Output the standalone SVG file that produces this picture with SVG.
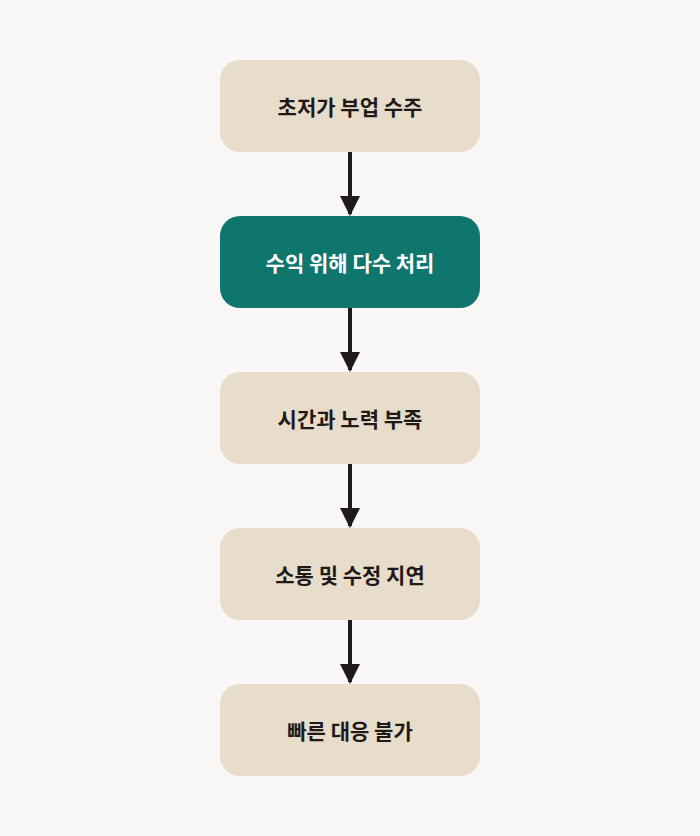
<svg xmlns="http://www.w3.org/2000/svg" width="700" height="836" viewBox="0 0 700 836">
<style>
.n{fill:#e8dccb}
.h{fill:#0f766e}
text{font-family:"Noto Sans CJK KR","Noto Sans",sans-serif;font-size:21px;font-weight:700;text-anchor:middle;dominant-baseline:central;fill:#1f1a17}
.w{fill:#ffffff}
.c{stroke:#1f1a17;stroke-width:4;fill:none}
</style>
<defs><marker id="a" markerWidth="5" markerHeight="5" refX="4.5" refY="2.5" orient="auto" markerUnits="strokeWidth"><path d="M0,0 L5,2.5 L0,5Z" fill="#1f1a17"/></marker></defs>
<rect width="700" height="836" fill="#f9f7f5"/>
<g id="connectors">
<line class="c" x1="350" y1="152" x2="350" y2="214" marker-end="url(#a)"/>
<line class="c" x1="350" y1="308" x2="350" y2="370" marker-end="url(#a)"/>
<line class="c" x1="350" y1="464" x2="350" y2="526" marker-end="url(#a)"/>
<line class="c" x1="350" y1="620" x2="350" y2="682" marker-end="url(#a)"/>
</g>
<g id="n1"><rect class="n" x="220" y="60" width="260" height="92" rx="20"/><text x="350" y="106">초저가 부업 수주</text></g>
<g id="n2"><rect class="h" x="220" y="216" width="260" height="92" rx="20"/><text class="w" x="350" y="262">수익 위해 다수 처리</text></g>
<g id="n3"><rect class="n" x="220" y="372" width="260" height="92" rx="20"/><text x="350" y="418">시간과 노력 부족</text></g>
<g id="n4"><rect class="n" x="220" y="528" width="260" height="92" rx="20"/><text x="350" y="574">소통 및 수정 지연</text></g>
<g id="n5"><rect class="n" x="220" y="684" width="260" height="92" rx="20"/><text x="350" y="730">빠른 대응 불가</text></g>
</svg>
